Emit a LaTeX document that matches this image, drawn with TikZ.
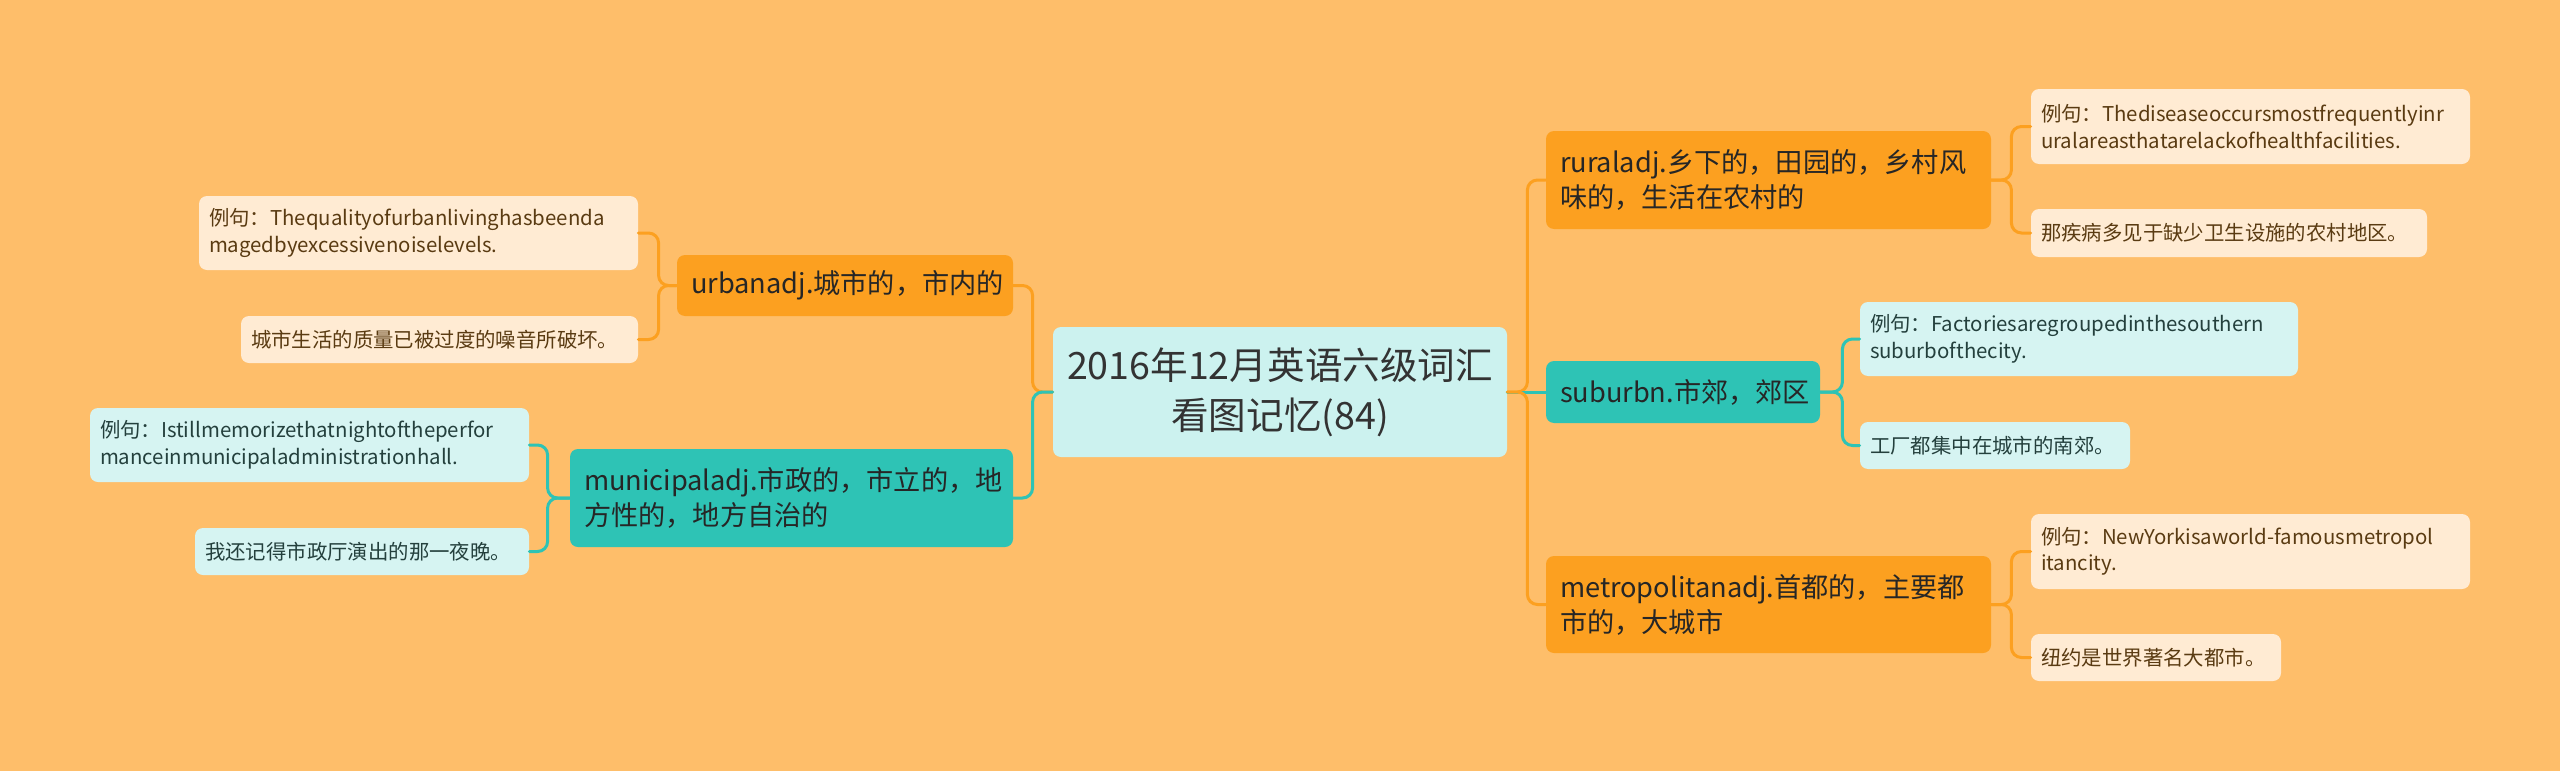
\documentclass[tikz,border=0pt]{standalone}
\usepackage{fontspec}
\setmainfont{Noto Sans CJK SC}
\usepackage{xcolor}
\usepackage{tikz}

\definecolor{bgcol}{HTML}{FEBE6A}
\definecolor{orangecol}{HTML}{FCA020}
\definecolor{tealcol}{HTML}{2EC3B5}
\definecolor{rootcol}{HTML}{CCF2EF}
\definecolor{creamcol}{HTML}{FFEBD3}
\definecolor{paletealcol}{HTML}{D6F4F2}
\definecolor{creamtext}{HTML}{5A3B12}
\definecolor{tealtext}{HTML}{24403D}

\begin{document}
\begin{tikzpicture}[line cap=round,line join=round,x=0.5pt,y=-0.5pt,
  box/.style={rectangle,rounded corners=4pt,inner ysep=0pt,align=left},
  root/.style={box,fill=rootcol,text=black!80,align=center,
    font=\fontsize{18.8}{25}\selectfont,minimum width=227pt,minimum height=65pt},
  otopic/.style={box,fill=orangecol,text=black!85,inner xsep=7pt,
    font=\fontsize{13.6}{17.5}\selectfont},
  ttopic/.style={otopic,fill=tealcol},
  oleaf/.style={box,fill=creamcol,text=creamtext,inner xsep=5pt,
    font=\fontsize{10.2}{13.3}\selectfont},
  tleaf/.style={oleaf,fill=paletealcol,text=tealtext},
  oconn/.style={draw=orangecol,line width=1.5pt,rounded corners=5pt},
  tconn/.style={draw=tealcol,line width=1.5pt,rounded corners=5pt}]
\fill[bgcol] (0,0) rectangle (2560,771);
\useasboundingbox (0,0) rectangle (2560,771);

% centre
\node[root] (root) at (1280,392) {2016年12月英语六级词汇\\看图记忆(84)};

% left side
\node[otopic,text width=154pt,minimum height=30.5pt] (urban) at (845,285.5) {urbanadj.城市的，市内的};
\node[oleaf,text width=209.5pt,minimum height=37pt] (uex1) at (418.5,233) {例句：Thequalityofurbanlivinghasbeenda\\magedbyexcessivenoiselevels.};
\node[oleaf,text width=188.5pt,minimum height=23.5pt] (uex2) at (439.5,339.5) {城市生活的质量已被过度的噪音所破坏。};
\node[ttopic,text width=207.5pt,minimum height=49pt] (municipal) at (791.5,498) {municipaladj.市政的，市立的，地\\方性的，地方自治的};
\node[tleaf,text width=209.5pt,minimum height=37pt] (mex1) at (309.5,445) {例句：Istillmemorizethatnightoftheperfor\\manceinmunicipaladministrationhall.};
\node[tleaf,text width=157pt,minimum height=23.5pt] (mex2) at (362,551.5) {我还记得市政厅演出的那一夜晚。};

% right side
\node[otopic,text width=208.5pt,minimum height=49pt] (rural) at (1768.5,180) {ruraladj.乡下的，田园的，乡村风\\味的，生活在农村的};
\node[oleaf,text width=209.5pt,minimum height=37.5pt] (rex1) at (2250.5,126.5) {例句：Thediseaseoccursmostfrequentlyinr\\uralareasthatarelackofhealthfacilities.};
\node[oleaf,text width=188pt,minimum height=24pt] (rex2) at (2229,233) {那疾病多见于缺少卫生设施的农村地区。};
\node[ttopic,text width=123pt,minimum height=31pt] (suburb) at (1683,392) {suburbn.市郊，郊区};
\node[tleaf,text width=209pt,minimum height=37pt] (sex1) at (2079,339) {例句：Factoriesaregroupedinthesouthern\\suburbofthecity.};
\node[tleaf,text width=125pt,minimum height=23.5pt] (sex2) at (1995,445.5) {工厂都集中在城市的南郊。};
\node[otopic,text width=208.5pt,minimum height=48.5pt] (metro) at (1768.5,604.5) {metropolitanadj.首都的，主要都\\市的，大城市};
\node[oleaf,text width=209.5pt,minimum height=37.5pt] (tex1) at (2250.5,551.5) {例句：NewYorkisaworld-famousmetropol\\itancity.};
\node[oleaf,text width=115pt,minimum height=23.5pt] (tex2) at (2156,657.5) {纽约是世界著名大都市。};

% connectors
\draw[oconn] (root.west) -- ++(-20,0) |- (urban.east);
\draw[tconn] (root.west) -- ++(-20,0) |- (municipal.east);
\draw[oconn] (urban.west) -- ++(-18,0) |- (uex1.east);
\draw[oconn] (urban.west) -- ++(-18,0) |- (uex2.east);
\draw[tconn] (municipal.west) -- ++(-22,0) |- (mex1.east);
\draw[tconn] (municipal.west) -- ++(-22,0) |- (mex2.east);
\draw[oconn] (root.east) -- ++(20,0) |- (rural.west);
\draw[tconn] (root.east) -- (suburb.west);
\draw[oconn] (root.east) -- ++(20,0) |- (metro.west);
\draw[oconn] (rural.east) -- ++(20,0) |- (rex1.west);
\draw[oconn] (rural.east) -- ++(20,0) |- (rex2.west);
\draw[tconn] (suburb.east) -- ++(22,0) |- (sex1.west);
\draw[tconn] (suburb.east) -- ++(22,0) |- (sex2.west);
\draw[oconn] (metro.east) -- ++(20,0) |- (tex1.west);
\draw[oconn] (metro.east) -- ++(20,0) |- (tex2.west);
\end{tikzpicture}
\end{document}
